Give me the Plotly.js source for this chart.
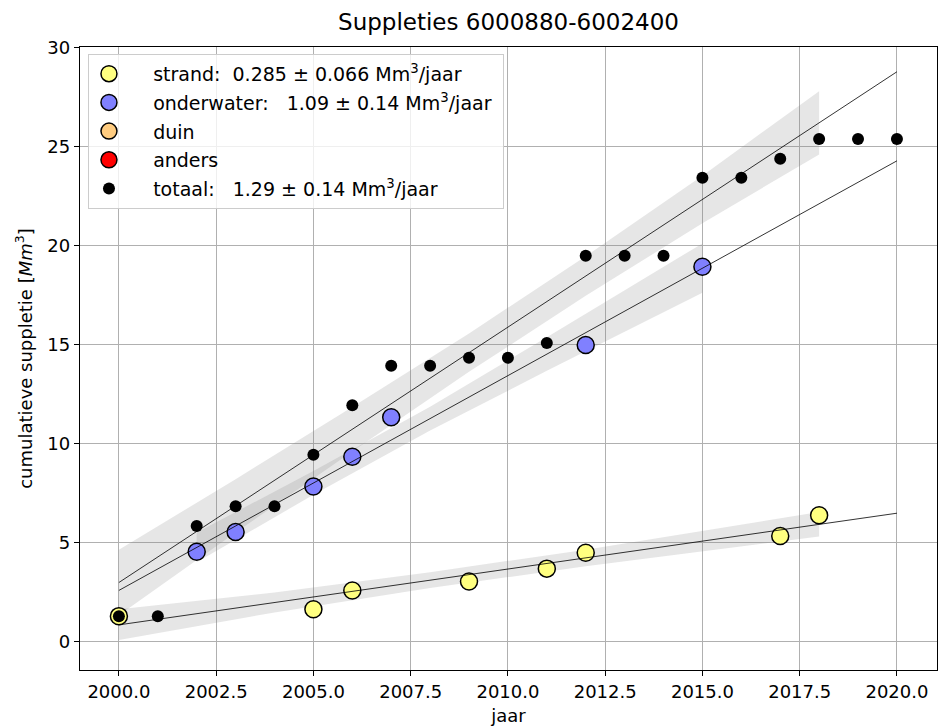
<!DOCTYPE html>
<html>
<head>
<meta charset="utf-8">
<script src="https://cdn.plot.ly/plotly-3.0.1.min.js"></script>
<style>html,body{margin:0;padding:0;background:#fff;}#chart{width:940px;height:727px;}</style>
</head>
<body>
<div id="chart"></div>
<script>
// ---- data ----
const totaalYears = [2000,2001,2002,2003,2004,2005,2006,2007,2008,2009,2010,2011,2012,2013,2014,2015,2016,2017,2018,2019,2020];
const totaalValues = [1.3,1.3,5.85,6.85,6.85,9.45,11.95,13.95,13.95,14.35,14.35,15.1,19.5,19.5,19.5,23.45,23.45,24.4,25.4,25.4,25.4];

const onderwaterYears = [2002,2003,2005,2006,2007,2012,2015];
const onderwaterValues = [4.55,5.55,7.85,9.35,11.35,15.0,18.95];

const strandYears = [2000,2005,2006,2009,2011,2012,2017,2018];
const strandValues = [1.3,1.65,2.6,3.05,3.7,4.5,5.35,6.4];

// fitted trend lines (end points)
const fitYears = [2000,2020];
const totaalFit = [3.0,28.8];
const onderwaterFit = [2.6,24.3];
const strandFit = [0.86,6.5];

// confidence bands (edges)
const totaalBandX = [2000,2003,2006,2009,2012,2015,2018];
const totaalBandLo = [1.35,5.52,9.62,13.64,17.48,21.15,24.62];
const totaalBandHi = [4.65,8.22,11.86,15.58,19.48,23.55,27.82];

const onderwaterBandX = [2002,2005,2008,2011,2015];
const onderwaterBandLo = [4.02,7.43,10.68,13.69,17.63];
const onderwaterBandHi = [5.52,8.63,11.88,15.39,20.13];

const strandBandX = [2000,2004,2008,2012,2018];
const strandBandLo = [0.1,1.49,2.72,3.82,5.32];
const strandBandHi = [1.65,2.49,3.52,4.66,6.56];

const PAD = "\u00A0\u00A0\u00A0\u00A0";
const legendLabels = {
  strand: PAD + "strand:\u00A0\u00A00.285 ± 0.066 Mm<sup>3</sup>/jaar",
  onderwater: PAD + "onderwater:\u00A0\u00A0\u00A01.09 ± 0.14 Mm<sup>3</sup>/jaar" + "\u00A0",
  duin: PAD + "duin",
  anders: PAD + "anders",
  totaal: PAD + "totaal:\u00A0\u00A0\u00A01.29 ± 0.14 Mm<sup>3</sup>/jaar"
};
const xTickVals = [2000,2002.5,2005,2007.5,2010,2012.5,2015,2017.5,2020];
const yTickVals = [0,5,10,15,20,25,30];

// ---- build traces ----
function band(xs, lo, hi) {
  return {
    x: xs.concat(xs.slice().reverse()),
    y: hi.concat(lo.slice().reverse()),
    type: 'scatter', mode: 'lines', fill: 'toself',
    fillcolor: 'rgba(128,128,128,0.2)', line: {width: 0},
    hoverinfo: 'skip', showlegend: false
  };
}
function fitLine(ys) {
  return {x: fitYears, y: ys, type: 'scatter', mode: 'lines',
    line: {color: 'black', width: 0.8}, showlegend: false, hoverinfo: 'skip'};
}
const FONT = 'DejaVu Sans, sans-serif';
const traces = [
  band(totaalBandX, totaalBandLo, totaalBandHi),
  band(onderwaterBandX, onderwaterBandLo, onderwaterBandHi),
  band(strandBandX, strandBandLo, strandBandHi),
  {x: strandYears, y: strandValues, type: 'scatter', mode: 'markers', name: legendLabels.strand,
    legendgroup: 'a', legendrank: 1,
    marker: {color: '#ffff80', size: 17, line: {color: 'black', width: 1.5}}},
  {x: onderwaterYears, y: onderwaterValues, type: 'scatter', mode: 'markers', name: legendLabels.onderwater,
    legendgroup: 'b', legendrank: 2,
    marker: {color: '#8080ff', size: 17, line: {color: 'black', width: 1.5}}},
  {x: [null], y: [null], type: 'scatter', mode: 'markers', name: legendLabels.duin,
    legendgroup: 'c', legendrank: 3,
    marker: {color: '#ffcc80', size: 17, line: {color: 'black', width: 1.5}}},
  {x: [null], y: [null], type: 'scatter', mode: 'markers', name: legendLabels.anders,
    legendgroup: 'd', legendrank: 4,
    marker: {color: '#ff0000', size: 17, line: {color: 'black', width: 1.5}}},
  fitLine(strandFit),
  fitLine(onderwaterFit),
  fitLine(totaalFit),
  {x: totaalYears, y: totaalValues, type: 'scatter', mode: 'markers', name: legendLabels.totaal,
    legendgroup: 'e', legendrank: 5,
    marker: {color: 'black', size: 12}}
];

const layout = {
  width: 940, height: 727,
  margin: {l: 80, r: 3, t: 47, b: 57},
  paper_bgcolor: 'white', plot_bgcolor: 'white',
  font: {family: FONT, size: 18, color: 'black'},
  title: {text: 'Suppleties 6000880-6002400', font: {family: FONT, size: 23, color: 'black'},
    x: 0.5, xanchor: 'center', y: 0.97, yanchor: 'middle', xref: 'paper'},
  xaxis: {
    range: [1999, 2021.03], tickvals: xTickVals, tickformat: '.1f',
    showgrid: true, gridcolor: '#b0b0b0', gridwidth: 1,
    showline: true, linecolor: 'black', linewidth: 1.2, mirror: true,
    ticks: 'outside', ticklen: 5, tickcolor: 'black', zeroline: false,
    tickfont: {family: FONT, size: 18},
    title: {text: 'jaar', font: {family: FONT, size: 18}, standoff: 8}
  },
  yaxis: {
    range: [-1.42, 30.05], tickvals: yTickVals,
    showgrid: true, gridcolor: '#b0b0b0', gridwidth: 1,
    showline: true, linecolor: 'black', linewidth: 1.2, mirror: true,
    ticks: 'outside', ticklen: 5, tickcolor: 'black', zeroline: false,
    tickfont: {family: FONT, size: 18},
    title: {text: 'cumulatieve suppletie [<i>Mm</i><sup>3</sup>]', font: {family: FONT, size: 18}, standoff: 10}
  },
  legend: {
    x: 0.0093, y: 0.989, xanchor: 'left', yanchor: 'top',
    bgcolor: 'rgba(255,255,255,0.8)', bordercolor: '#cccccc', borderwidth: 1,
    font: {family: FONT, size: 19}, tracegroupgap: 1, itemwidth: 30
  },
  showlegend: true
};

Plotly.newPlot('chart', traces, layout, {displayModeBar: false, staticPlot: true});
</script>
</body>
</html>
